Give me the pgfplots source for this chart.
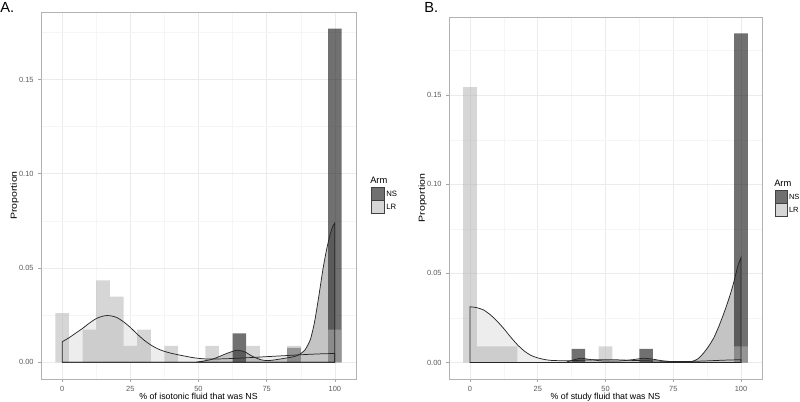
\documentclass[border=0pt]{standalone}
\usepackage{pgfplots}
\pgfplotsset{compat=1.18}
\usepackage{fontspec}
\setmainfont{Liberation Sans}

\definecolor{nsbar}{RGB}{35,35,35}
\definecolor{lrbar}{RGB}{180,180,180}
\definecolor{nsdens}{RGB}{196,196,196}
\definecolor{lrdens}{RGB}{237,237,237}
\definecolor{gridmaj}{RGB}{235,235,235}
\definecolor{gridmin}{RGB}{245,245,245}
\definecolor{border}{RGB}{178,178,178}
\definecolor{ticktext}{RGB}{90,90,90}

\pgfplotsset{
  panel/.style={
    scale only axis,
    xmin=-7.75, xmax=107.75,
    xtick={0,25,50,75,100},
    minor xtick={12.5,37.5,62.5,87.5},
    ytick={0,0.05,0.1,0.15},
    minor ytick={0.025,0.075,0.125,0.175},
    scaled y ticks=false,
    yticklabel style={/pgf/number format/.cd, fixed, fixed zerofill, precision=2},
    /pgf/number format/assume math mode=true,
    tick pos=left,
    grid=both,
    major grid style={color=gridmaj, line width=0.5pt},
    minor grid style={color=gridmin, line width=0.3pt},
    axis line style={color=border, line width=0.7pt},
    tick align=outside,
    major tick length=2pt,
    minor tick length=0pt,
    tick style={color=gray!70, line width=0.5pt},
    ticklabel style={font=\fontsize{5.6}{6}\selectfont, text=ticktext},
    label style={font=\fontsize{6.6}{7.5}\selectfont},
    ylabel={\scalebox{1.2}[1]{Proportion}},
    xlabel style={yshift=5.5pt},
    ylabel style={yshift=-6.5pt},
  },
  bars/.style={ybar, bar width=5, bar shift=0pt, draw=none},
  densfill/.style={draw=none, smooth, tension=0.4},
  densline/.style={draw=black!85, line width=0.55pt, smooth, tension=0.4},
}

\begin{document}
\begin{tikzpicture}
\useasboundingbox (0,0) rectangle (600pt,300.75pt);

% ---------------- Panel A ----------------
\begin{axis}[panel,
  at={(30.75pt,16.5pt)}, anchor=south west,
  width=236.25pt, height=275.25pt,
  ymin=-0.00885, ymax=0.18577,
  xlabel={\% of isotonic fluid that was NS},
]
% density fills
\addplot[densfill, fill=lrdens] coordinates {
 (0,0.0109) (2.5,0.0130) (5,0.0155) (7.5,0.0180) (10,0.0208) (12.5,0.0232)
 (15,0.0245) (16.5,0.0248) (18,0.0246) (20,0.0238) (22.5,0.0215) (25,0.0185)
 (27.5,0.0150) (30,0.0118) (32.5,0.0092) (35,0.0072) (37.5,0.0058) (40,0.0048)
 (42.5,0.0040) (45,0.0033) (47.5,0.0026) (50,0.0021) (52.5,0.0018) (55,0.0017)
 (60,0.0019) (65,0.0022) (70,0.0026) (75,0.0030) (80,0.0034) (85,0.0038)
 (90,0.0042) (95,0.0045) (100,0.0047)} \closedcycle;
\addplot[densfill, fill=nsdens] coordinates {
 (0,0) (45,0) (50,0.0003) (55,0.0016) (60,0.0045) (64,0.0064) (67,0.0055)
 (70,0.0030) (73,0.0013) (75.5,0.0009) (78,0.0013) (81,0.0020) (85,0.0030)
 (87,0.0042) (89,0.0065) (91,0.0120) (92.5,0.0210) (94,0.0340) (95.7,0.0500)
 (97,0.0600) (98.2,0.0675) (99.2,0.0720) (100,0.0740)} \closedcycle;
% histograms
\addplot[bars, fill=nsbar, fill opacity=0.65] coordinates {
 (65,0.01538) (85,0.00769) (100,0.17692)};
\addplot[bars, fill=lrbar, fill opacity=0.55] coordinates {
 (0,0.02609) (10,0.01739) (15,0.04348) (20,0.03478) (25,0.00870) (30,0.01739)
 (40,0.00870) (55,0.00870) (70,0.00870) (85,0.00870) (100,0.01739)};
% density outlines
\addplot[densline] coordinates {
 (0,0.0109) (2.5,0.0130) (5,0.0155) (7.5,0.0180) (10,0.0208) (12.5,0.0232)
 (15,0.0245) (16.5,0.0248) (18,0.0246) (20,0.0238) (22.5,0.0215) (25,0.0185)
 (27.5,0.0150) (30,0.0118) (32.5,0.0092) (35,0.0072) (37.5,0.0058) (40,0.0048)
 (42.5,0.0040) (45,0.0033) (47.5,0.0026) (50,0.0021) (52.5,0.0018) (55,0.0017)
 (60,0.0019) (65,0.0022) (70,0.0026) (75,0.0030) (80,0.0034) (85,0.0038)
 (90,0.0042) (95,0.0045) (100,0.0047)} \closedcycle;
\addplot[densline] coordinates {
 (0,0) (45,0) (50,0.0003) (55,0.0016) (60,0.0045) (64,0.0064) (67,0.0055)
 (70,0.0030) (73,0.0013) (75.5,0.0009) (78,0.0013) (81,0.0020) (85,0.0030)
 (87,0.0042) (89,0.0065) (91,0.0120) (92.5,0.0210) (94,0.0340) (95.7,0.0500)
 (97,0.0600) (98.2,0.0675) (99.2,0.0720) (100,0.0740)} \closedcycle;
\end{axis}

% ---------------- Panel B ----------------
\begin{axis}[panel,
  at={(336.75pt,16.5pt)}, anchor=south west,
  width=234.75pt, height=271.5pt,
  ymin=-0.00923, ymax=0.19385,
  xlabel={\% of study fluid that was NS},
]
\addplot[densfill, fill=lrdens] coordinates {
 (0,0.0313) (2.5,0.0308) (5,0.0295) (7.5,0.0268) (10,0.0232) (12.5,0.0190)
 (15,0.0143) (17.5,0.0100) (20,0.0065) (22.5,0.0040) (25,0.0026) (27.5,0.0017)
 (30,0.0012) (35,0.0010) (40,0.0012) (45,0.0015) (50,0.0016) (55,0.0015)
 (60,0.0012) (65,0.0010) (70,0.0008) (75,0.0006) (80,0.0006) (85,0.0008)
 (90,0.0011) (95,0.0014) (100,0.0016)} \closedcycle;
\addplot[densfill, fill=nsdens] coordinates {
 (0,0) (33,0) (36,0.0005) (39,0.0018) (41,0.0024) (44,0.0018) (48,0.0010)
 (52,0.0008) (56,0.0010) (60,0.0016) (64,0.0024) (67,0.0020) (71,0.0010)
 (75,0.0003) (78,0.0001) (80,0.0002) (82,0.0006) (84,0.0020) (86,0.0050)
 (88,0.0090) (90,0.0140) (92,0.0210) (94,0.0290) (96,0.0380) (97.5,0.0460)
 (98.8,0.0540) (100,0.0590)} \closedcycle;
\addplot[bars, fill=nsbar, fill opacity=0.65] coordinates {
 (40,0.00769) (65,0.00769) (100,0.18462)};
\addplot[bars, fill=lrbar, fill opacity=0.55] coordinates {
 (0,0.15455) (5,0.00909) (10,0.00909) (15,0.00909) (50,0.00909) (100,0.00909)};
\addplot[densline] coordinates {
 (0,0.0313) (2.5,0.0308) (5,0.0295) (7.5,0.0268) (10,0.0232) (12.5,0.0190)
 (15,0.0143) (17.5,0.0100) (20,0.0065) (22.5,0.0040) (25,0.0026) (27.5,0.0017)
 (30,0.0012) (35,0.0010) (40,0.0012) (45,0.0015) (50,0.0016) (55,0.0015)
 (60,0.0012) (65,0.0010) (70,0.0008) (75,0.0006) (80,0.0006) (85,0.0008)
 (90,0.0011) (95,0.0014) (100,0.0016)} \closedcycle;
\addplot[densline] coordinates {
 (0,0) (33,0) (36,0.0005) (39,0.0018) (41,0.0024) (44,0.0018) (48,0.0010)
 (52,0.0008) (56,0.0010) (60,0.0016) (64,0.0024) (67,0.0020) (71,0.0010)
 (75,0.0003) (78,0.0001) (80,0.0002) (82,0.0006) (84,0.0020) (86,0.0050)
 (88,0.0090) (90,0.0140) (92,0.0210) (94,0.0290) (96,0.0380) (97.5,0.0460)
 (98.8,0.0540) (100,0.0590)} \closedcycle;
\end{axis}

% panel tags
\node[anchor=north west, inner sep=0pt, font=\fontsize{11}{12}\selectfont] at (0pt,299pt) {A.};
\node[anchor=north west, inner sep=0pt, font=\fontsize{11}{12}\selectfont] at (318pt,299pt) {B.};

% legends
\begin{scope}[font=\fontsize{7}{8}\selectfont]
\node[anchor=west, inner sep=0pt] at (277.5pt,165.75pt) {Arm};
\fill[nsbar!65!white, draw=black!75, line width=0.5pt] (278.25pt,150.75pt) rectangle (288pt,160.5pt);
\fill[lrbar!55!white, draw=black!75, line width=0.5pt] (278.25pt,141pt) rectangle (288pt,150.75pt);
\node[anchor=west, inner sep=0pt, font=\fontsize{5.8}{6.5}\selectfont] at (289.5pt,155.6pt) {NS};
\node[anchor=west, inner sep=0pt, font=\fontsize{5.8}{6.5}\selectfont] at (289.5pt,145.9pt) {LR};

\node[anchor=west, inner sep=0pt] at (580.5pt,163.5pt) {Arm};
\fill[nsbar!65!white, draw=black!75, line width=0.5pt] (581.5pt,148.5pt) rectangle (590.5pt,158.25pt);
\fill[lrbar!55!white, draw=black!75, line width=0.5pt] (581.5pt,138.75pt) rectangle (590.5pt,148.5pt);
\node[anchor=west, inner sep=0pt, font=\fontsize{5.6}{6.5}\selectfont] at (591.6pt,153.4pt) {NS};
\node[anchor=west, inner sep=0pt, font=\fontsize{5.6}{6.5}\selectfont] at (591.6pt,143.6pt) {LR};
\end{scope}
\end{tikzpicture}
\end{document}
